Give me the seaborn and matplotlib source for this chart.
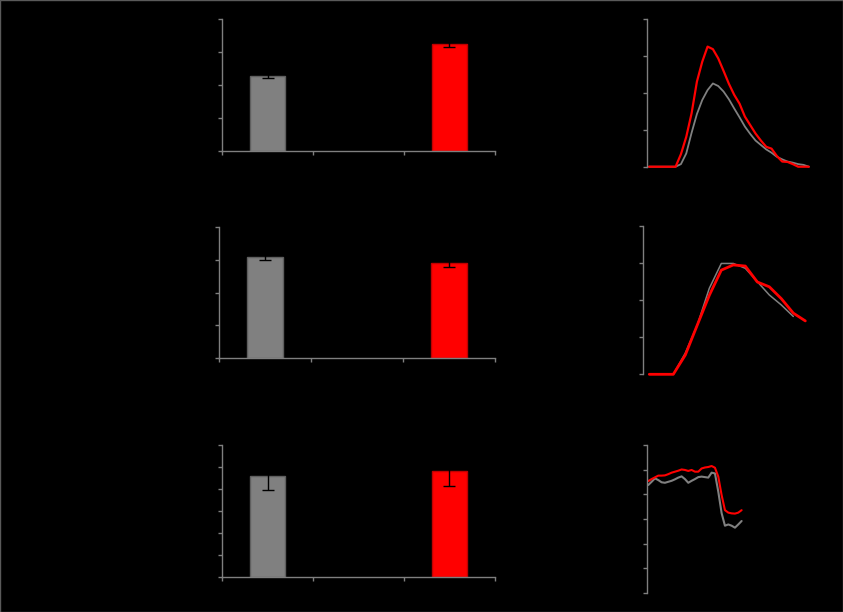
import numpy as np
import pandas as pd
import matplotlib
matplotlib.use("Agg")
import matplotlib.pyplot as plt
from matplotlib.patches import Rectangle
import seaborn as sns

sns.set_theme(style="white")

# ---- data -------------------------------------------------------------
groups = ["Control", "", "Treatment"]

bar1_vals = [2.29, np.nan, 3.24]
bar1_err = [0.06, np.nan, 0.07]
bar2_vals = [3.07, np.nan, 2.89]
bar2_err = [0.08, np.nan, 0.10]
bar3_vals = [4.59, np.nan, 4.80]
bar3_err = [0.64, np.nan, 0.65]

line1_ctrl = [0, 0, 0, 0, 0, 0, 0.07, 0.36, 0.92, 1.43, 1.81, 2.08, 2.26, 2.19,
              2.04, 1.83, 1.58, 1.34, 1.09, 0.89, 0.71, 0.59, 0.47, 0.38, 0.27,
              0.20, 0.14, 0.11, 0.07, 0.05, 0.0]
line1_trt = [0, 0, 0, 0, 0, 0, 0.34, 0.81, 1.45, 2.31, 2.85, 3.26, 3.19, 2.94,
             2.60, 2.25, 1.95, 1.71, 1.36, 1.13, 0.90, 0.71, 0.54, 0.49, 0.29,
             0.14, 0.13, 0.07, 0, 0, 0]

line2_ctrl = [0, 0, 0, 0.57, 1.33, 2.32, 2.99, 2.99, 2.86, 2.50, 2.14, 1.87, 1.56]
line2_trt = [0, 0, 0, 0.52, 1.33, 2.13, 2.81, 2.95, 2.92, 2.49, 2.36, 2.04, 1.65, 1.44]

line3_ctrl = [4.38, 4.51, 4.65, 4.58, 4.49, 4.47, 4.51, 4.55, 4.61, 4.68, 4.73,
              4.62, 4.47, 4.55, 4.62, 4.70, 4.72, 4.70, 4.68, 4.88, 4.85, 4.11,
              3.24, 2.73, 2.78, 2.73, 2.65, 2.78, 2.92]
line3_trt = [4.54, 4.62, 4.69, 4.76, 4.76, 4.77, 4.82, 4.88, 4.92, 4.96, 5.01,
             4.99, 4.95, 4.99, 4.92, 4.92, 5.05, 5.09, 5.11, 5.15, 5.08, 4.72,
             3.97, 3.36, 3.26, 3.23, 3.22, 3.26, 3.36]

GRAY = "#808080"
RED = "#ff0000"
SPINE = "#7f7f7f"

# ---- figure -----------------------------------------------------------
fig = plt.figure(figsize=(8.43, 6.12), dpi=100, facecolor="black")


def style_axes(ax, show_bottom=True):
    ax.set_facecolor("black")
    for side in ("top", "right"):
        ax.spines[side].set_visible(False)
    ax.spines["left"].set_color(SPINE)
    ax.spines["left"].set_linewidth(1.0)
    if show_bottom:
        ax.spines["bottom"].set_color(SPINE)
        ax.spines["bottom"].set_linewidth(1.0)
    else:
        ax.spines["bottom"].set_visible(False)
    ax.tick_params(axis="y", direction="out", length=3, width=1.0,
                   color=SPINE, left=True, labelleft=False)
    ax.tick_params(axis="x", direction="out", length=3 if show_bottom else 0,
                   width=1.0, color=SPINE, bottom=show_bottom, labelbottom=False)
    ax.set_xlabel("")
    ax.set_ylabel("")
    ax.grid(False)


def bar_panel(rect, vals, errs, ymax, nticks):
    ax = fig.add_axes(rect)
    df = pd.DataFrame({"group": groups, "value": vals})
    sns.barplot(data=df, x="group", y="value", order=groups, hue="group",
                palette={groups[0]: GRAY, groups[1]: GRAY, groups[2]: RED},
                legend=False, width=0.39, errorbar=None, saturation=1,
                ax=ax, linewidth=1.0)
    edge = {0: "#5f5f5f", 2: "#c00000"}
    bars = [p for p in ax.patches if np.isfinite(p.get_height()) and p.get_height() > 0]
    for patch, idx in zip(bars, [0, 2]):
        patch.set_edgecolor(edge[idx])
    ax.errorbar([0, 2], [vals[0], vals[2]], yerr=[errs[0], errs[2]], fmt="none",
                ecolor="black", elinewidth=1.0, capsize=4, capthick=1.0)
    ax.set_xlim(-0.5, 2.5)
    ax.set_ylim(0, ymax)
    ax.set_xticks([-0.5, 0.5, 1.5, 2.5])
    ax.set_yticks(np.linspace(0, ymax, nticks + 1))
    style_axes(ax, show_bottom=True)
    return ax


def line_panel(rect, ctrl, trt, xlim, ymax, nticks, lw_ctrl, lw_trt):
    ax = fig.add_axes(rect)
    sns.lineplot(x=np.arange(len(ctrl)), y=ctrl, color=GRAY, linewidth=lw_ctrl,
                 ax=ax, clip_on=False)
    sns.lineplot(x=np.arange(len(trt)), y=trt, color=RED, linewidth=lw_trt,
                 ax=ax, clip_on=False)
    ax.set_xlim(*xlim)
    ax.set_ylim(0, ymax)
    ax.set_yticks(np.linspace(0, ymax, nticks + 1))
    ax.set_xticks([])
    style_axes(ax, show_bottom=False)
    return ax


bar_panel([0.2637, 0.7528, 0.3231, 0.2157], bar1_vals, bar1_err, 4, 4)
bar_panel([0.2598, 0.4145, 0.3271, 0.2150], bar2_vals, bar2_err, 4, 4)
bar_panel([0.2637, 0.0567, 0.3231, 0.2162], bar3_vals, bar3_err, 6, 6)

line_panel([0.7671, 0.7276, 0.1949, 0.2408], line1_ctrl, line1_trt,
           (-0.43, 30.4), 4, 4, 1.3, 1.6)
line_panel([0.7631, 0.3884, 0.1989, 0.2423], line2_ctrl, line2_trt,
           (-0.5, 13.47), 4, 4, 1.1, 2.0)
line_panel([0.7671, 0.0310, 0.1949, 0.2418], line3_ctrl, line3_trt,
           (-0.48, 48.8), 6, 6, 1.5, 1.5)

# thin frame around the whole canvas
fig.patches.append(Rectangle((0, 0), 1, 1, transform=fig.transFigure,
                             fill=False, edgecolor="#5a5a5a", linewidth=1.0))

fig.savefig("out.png", dpi=100, facecolor="black")
